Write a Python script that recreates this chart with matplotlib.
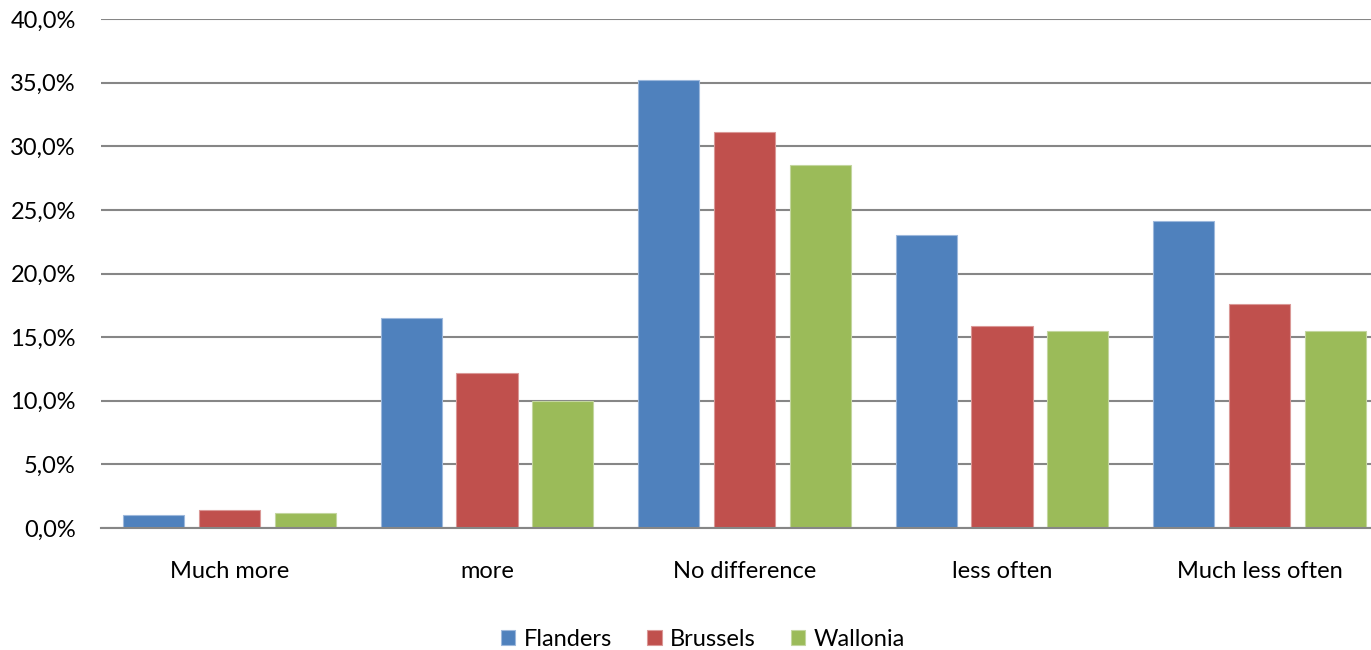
import matplotlib
matplotlib.use("Agg")
import matplotlib.pyplot as plt
import numpy as np
from matplotlib.ticker import FuncFormatter

categories = ["Much more", "more", "No difference", "less often", "Much less often"]
series_names = ["Flanders", "Brussels", "Wallonia"]
flanders = [1.0, 16.5, 35.2, 23.0, 24.1]
brussels = [1.4, 12.2, 31.1, 15.9, 17.6]
wallonia = [1.2, 10.0, 28.5, 15.5, 15.5]
colors = ["#4F81BD", "#C0504D", "#9BBB59"]
edges = ["#9DB8DC", "#DA9896", "#C3D69F"]

plt.rcParams['font.family'] = ['Lato', 'DejaVu Sans']

W, H = 1371, 650
left_px, right_px, top_px, bottom_px = 100.75, 1388.25, 19, 528
fig = plt.figure(figsize=(W/100, H/100), dpi=100)
ax = fig.add_axes([left_px/W, 1-bottom_px/H, (right_px-left_px)/W, (bottom_px-top_px)/H])

x = np.arange(len(categories))
w = 0.237
gap = 0.058
for i, (vals, c, ec, name) in enumerate(zip([flanders, brussels, wallonia], colors, edges, series_names)):
    ax.bar(x + (i-1)*(w+gap), vals, w, color=c, edgecolor=ec, linewidth=0.8, label=name, zorder=3)

ax.set_xlim(-0.5, len(categories)-0.5)
ax.set_ylim(0, 40)
ax.set_yticks(np.arange(0, 41, 5))
ax.yaxis.set_major_formatter(FuncFormatter(lambda v, p: f"{v:.1f}%".replace(".", ",")))
ax.grid(axis='y', color="#868686", linewidth=1.5, zorder=0)
for s in ["top", "right", "left"]:
    ax.spines[s].set_visible(False)
ax.spines["bottom"].set_color("#868686")
ax.spines["bottom"].set_linewidth(1.5)
ax.spines["bottom"].set_zorder(4)
ax.set_xticks(x)
ax.set_xticklabels(categories)
ax.tick_params(axis='x', length=0, pad=24, labelsize=17)
ax.tick_params(axis='y', length=0, pad=18, labelsize=17)

leg = fig.legend(loc="center", bbox_to_anchor=(703/W, 1-639/H), ncol=3, frameon=False,
                 fontsize=17, handlelength=0.6, handleheight=0.6, handletextpad=0.35, columnspacing=1.5)

fig.savefig("out.png", dpi=100)
